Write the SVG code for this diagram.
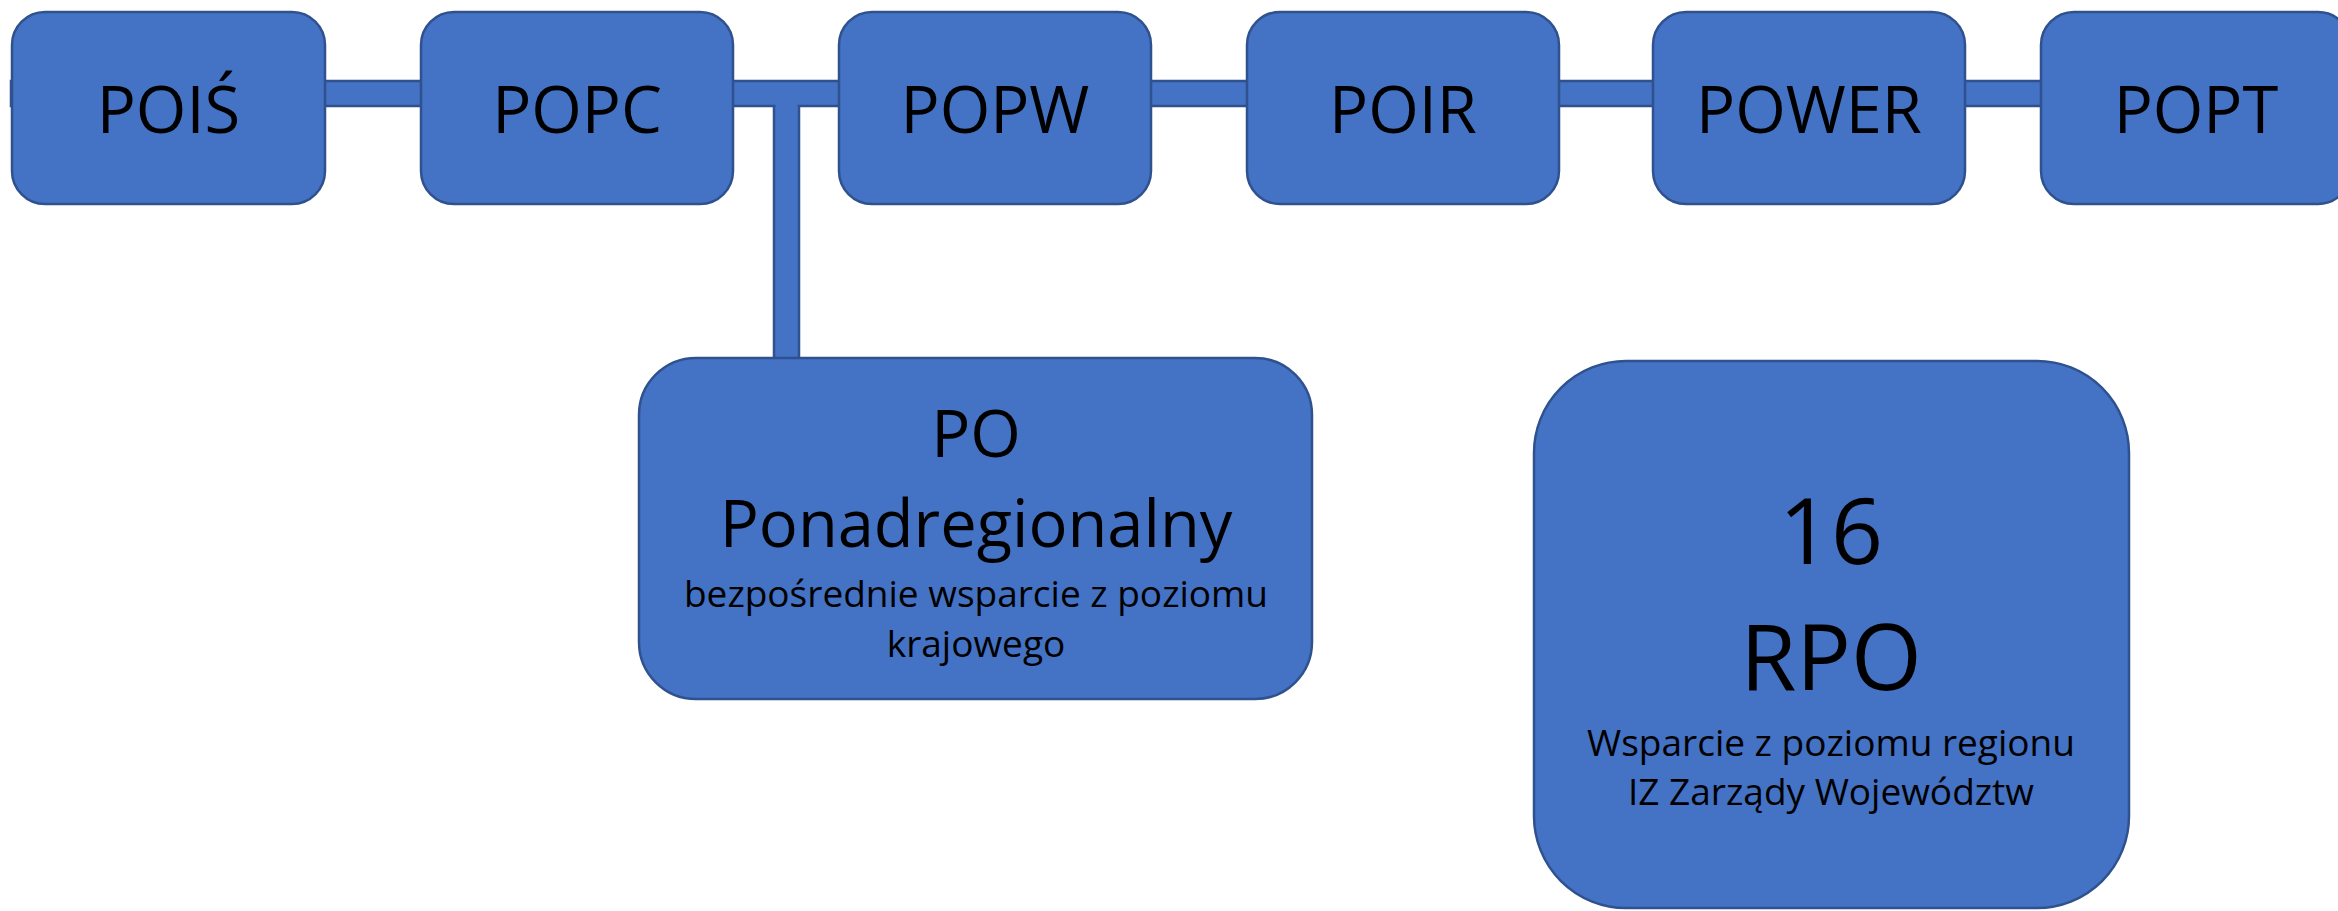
<svg xmlns="http://www.w3.org/2000/svg" width="2338" height="911" viewBox="0 0 2338 911">
<style>
.box{fill:#4472C4;stroke:#2F528F;stroke-width:2.5}
.bar{fill:#4472C4;stroke:#2F528F;stroke-width:2.5}
.t{font-family:"Open Sans","Liberation Sans",sans-serif;fill:#000;text-anchor:middle}
.big{font-size:65px}
.sm{font-size:37px}
.huge{font-size:91px}
</style>
<rect width="2338" height="911" fill="#fff"/>
<g id="connectors">
<rect class="bar" x="774" y="94" width="25" height="266"/>
<rect class="bar" x="11" y="81" width="2337" height="25"/>
<rect x="775.5" y="100" width="22" height="10" fill="#4472C4"/>
</g>
<g id="node-poiss"><rect class="box" x="12" y="12" width="313" height="192" rx="33"/><text class="t big" x="168.5" y="133">POIŚ</text></g>
<g id="node-popc"><rect class="box" x="421" y="12" width="312" height="192" rx="33"/><text class="t big" x="577" y="133">POPC</text></g>
<g id="node-popw"><rect class="box" x="839" y="12" width="312" height="192" rx="33"/><text class="t big" x="995" y="133">POPW</text></g>
<g id="node-poir"><rect class="box" x="1247" y="12" width="312" height="192" rx="33"/><text class="t big" x="1403" y="133">POIR</text></g>
<g id="node-power"><rect class="box" x="1653" y="12" width="312" height="192" rx="33"/><text class="t big" x="1809" y="133">POWER</text></g>
<g id="node-popt"><rect class="box" x="2041" y="12" width="310" height="192" rx="33"/><text class="t big" x="2196" y="133">POPT</text></g>
<g id="node-po-ponadregionalny"><rect class="box" x="639" y="358" width="673" height="341" rx="57"/>
<text class="t big" x="976" y="457">PO</text>
<text class="t big" x="976" y="547">Ponadregionalny</text>
<text class="t sm" x="976" y="607">bezpośrednie wsparcie z poziomu</text>
<text class="t sm" x="976" y="657">krajowego</text></g>
<g id="node-rpo"><rect class="box" x="1534" y="361" width="595" height="547" rx="92"/>
<text class="t huge" x="1831" y="564">16</text>
<text class="t huge" x="1831" y="690">RPO</text>
<text class="t sm" x="1831" y="756">Wsparcie z poziomu regionu</text>
<text class="t sm" x="1831" y="805">IZ Zarządy Województw</text></g>
</svg>
